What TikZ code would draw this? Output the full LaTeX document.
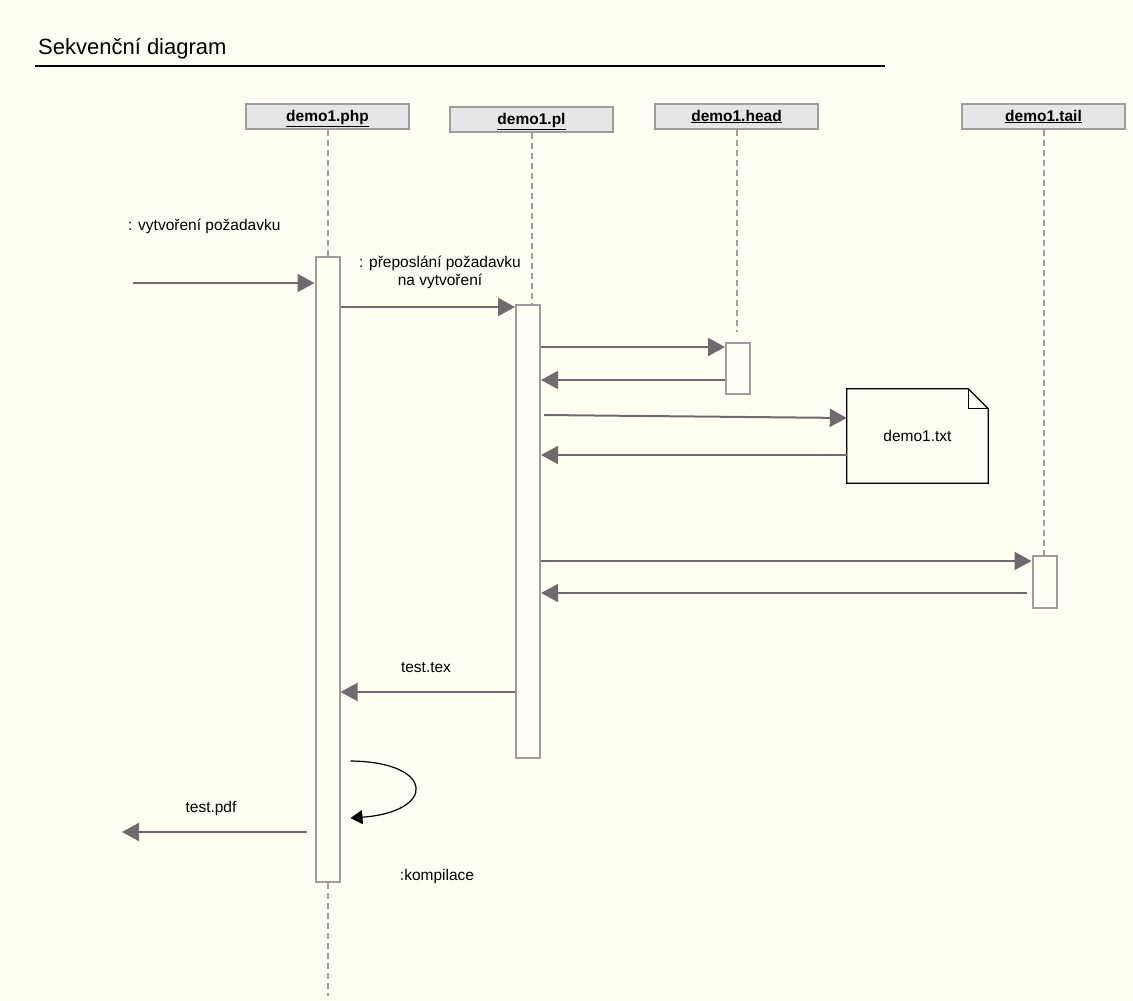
\documentclass[tikz,border=0pt]{standalone}
\usepackage{fontspec}
\setmainfont{Liberation Sans}
\usetikzlibrary{positioning,arrows.meta,calc}
\definecolor{paper}{HTML}{FFFFF3}
\definecolor{msggray}{HTML}{6E6A6E}
\definecolor{boxgray}{HTML}{A09C9C}
\definecolor{headfill}{HTML}{E6E6E6}

\begin{document}
\begin{tikzpicture}[x=1pt, y=-1pt,
  head/.style={draw=boxgray, line width=2pt, fill=headfill, minimum width=163pt,
    minimum height=25pt, inner sep=0pt, text depth=1pt, font=\fontsize{15.5}{17}\selectfont\bfseries},
  act/.style={draw=boxgray, line width=2pt, fill=paper, minimum width=24pt, inner sep=0pt},
  life/.style={boxgray, line width=2pt, dash pattern=on 6pt off 4pt},
  msg/.style={msggray, line width=2pt, -{Triangle[length=17pt,width=18pt]}},
  lbl/.style={font=\fontsize{15.5}{18}\selectfont, text=black, inner sep=0pt}]
  % page: 1133 x 1001 px, 1px = 1pt, y grows downward
  \fill[paper] (0,0) rectangle (1133,1001);
  \useasboundingbox (0,0) rectangle (1133,1001);
  % title
  \node[anchor=base west, font=\fontsize{22}{26}\selectfont, inner sep=0pt] (title) at (38,54) {Sekvenční diagram};
  \coordinate (rulel) at (35,66);
  \coordinate (ruler) at (885,66);
  \draw[line width=1.2pt] (rulel) -- (ruler);
  % lifeline heads
  \node[head] (phphead)  at (327.5,116) {\underline{demo1.php}};
  \node[head] (plhead)   at (531.5,119) {\underline{demo1.pl}};
  \node[head] (headhead) at (736.5,116) {\underline{demo1.head}};
  \node[head] (tailhead) at (1043.5,116) {\underline{demo1.tail}};
  % activations (y from top to bottom)
  \node[act, minimum height=625pt] (phpact)  at (327.5,569.5) {};
  \node[act, minimum height=453pt] (plact)   at (528,531.5) {};
  \node[act, minimum height=51pt]  (headact) at (738,368.5) {};
  \node[act, minimum height=52pt]  (tailact) at (1044.5,582) {};
  % dashed lifelines
  \coordinate (phpend) at (327.5,996);
  \draw[life] (phphead.south) -- (phpact.north);
  \draw[life] (phpact.south) -- (phpend);
  \draw[life] (plhead.south) -- (plhead.south |- plact.north);
  \draw[life] (headhead.south) -- ($(headhead.south |- headact.north)+(0,-10)$);
  \draw[life] (tailhead.south) -- (tailhead.south |- tailact.north);
  % note
  \node[minimum width=141pt, minimum height=94pt, inner sep=0pt] (txt) at (917.5,436) {};
  \draw[line width=1.2pt, fill=paper] (txt.north west) -- ($(txt.north east)+(-20,0)$)
    -- ($(txt.north east)+(0,20)$) -- (txt.south east) -- (txt.south west) -- cycle;
  \draw[line width=1.2pt] ($(txt.north east)+(-20,0)$) |- ($(txt.north east)+(0,20)$);
  \node[lbl] (txtlbl) at (txt.center) {demo1.txt};
  % messages
  \coordinate (src) at (133,283);
  \draw[msg] (src) -- (phpact.west |- src);
  \node[lbl, anchor=base west] (m1) at (128,230) {: vytvoření požadavku};
  \draw[msg] (phpact.east |- 0,307) -- (plact.west |- 0,307);
  \node[lbl, align=center] (m2) at (440,272) {: přeposlání požadavku\\na vytvoření};
  \draw[msg] (plact.east |- 0,347) -- (headact.west |- 0,347);
  \draw[msg] (headact.west |- 0,380) -- (plact.east |- 0,380);
  \draw[msg] ($(plact.east |- 0,415)+(3,0)$) -- (txt.west |- 0,418);
  \draw[msg] (txt.west |- 0,455) -- (plact.east |- 0,455);
  \draw[msg] (plact.east |- 0,561) -- (tailact.west |- 0,561);
  \draw[msg] ($(tailact.west |- 0,593)+(-5,0)$) -- (plact.east |- 0,593);
  \draw[msg] (plact.west |- 0,692) -- (phpact.east |- 0,692);
  \node[lbl] (m9) at (426,668) {test.tex};
  % self call
  \coordinate (loopa) at ($(phpact.east |- 0,761)+(10,0)$);
  \coordinate (loopb) at ($(phpact.east |- 0,818)+(10,0)$);
  \draw[line width=1.2pt, -{Triangle[length=12pt,width=14pt]}] (loopa) .. controls (436,762) and (436,812) .. (loopb);
  \node[lbl] (m10) at (437,876) {:kompilace};
  % result
  \coordinate (sink) at (122,832);
  \draw[msg] ($(phpact.west |- sink)+(-8,0)$) -- (sink);
  \node[lbl] (m11) at (211,808) {test.pdf};
\end{tikzpicture}
\end{document}
